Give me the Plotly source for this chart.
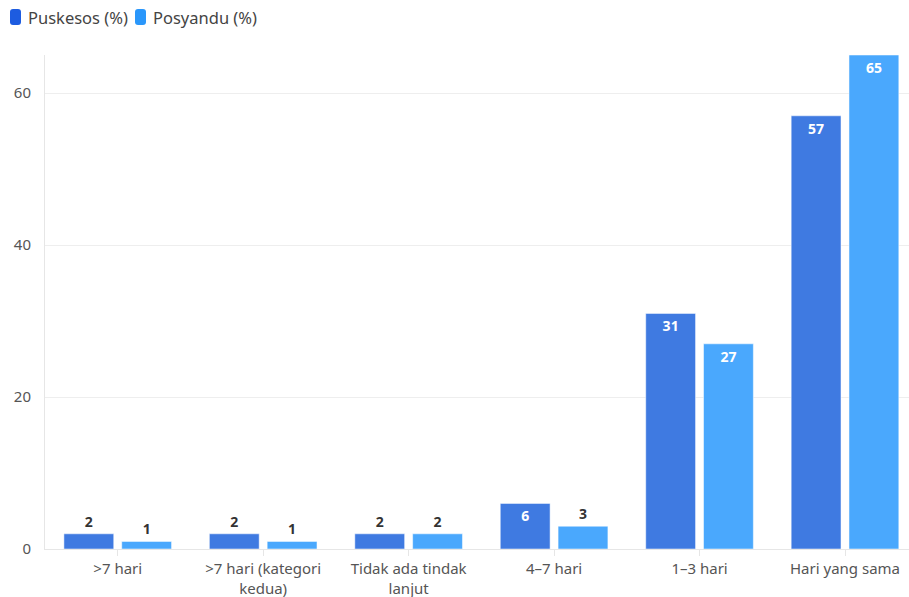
import plotly.graph_objects as go

categories = [">7 hari", ">7 hari (kategori<br>kedua)", "Tidak ada tindak<br>lanjut",
              "4–7 hari", "1–3 hari", "Hari yang sama"]
puskesos = [2, 2, 2, 6, 31, 57]
posyandu = [1, 1, 2, 3, 27, 65]
series_names = ["Puskesos (%)", "Posyandu (%)"]

DARK_BAR, LIGHT_BAR = "#3f7ae1", "#4aa8fd"
DARK_KEY, LIGHT_KEY = "#1d5ce0", "#2a97fb"
FONT = "Noto Sans"


def label_positions(values, threshold=5):
    return ["inside" if v >= threshold else "outside" for v in values]


def label_colors(values, threshold=5):
    return ["#ffffff" if v >= threshold else "#333333" for v in values]


def rounded_rect(x0, y0, x1, y1, r):
    return (f"M{x0+r},{y0} L{x1-r},{y0} Q{x1},{y0} {x1},{y0+r} L{x1},{y1-r} "
            f"Q{x1},{y1} {x1-r},{y1} L{x0+r},{y1} Q{x0},{y1} {x0},{y1-r} "
            f"L{x0},{y0+r} Q{x0},{y0} {x0+r},{y0} Z")


fig = go.Figure()
for name, vals, col in [(series_names[0], puskesos, DARK_BAR), (series_names[1], posyandu, LIGHT_BAR)]:
    fig.add_trace(go.Bar(
        x=categories, y=vals, name=name, showlegend=False,
        marker=dict(color=col, line=dict(color="rgba(255,255,255,0.5)", width=1)),
        text=[str(v) for v in vals], textposition=label_positions(vals),
        insidetextanchor="end", cliponaxis=False,
        textfont=dict(family=FONT, size=14, weight="bold", color=label_colors(vals)),
        constraintext="none",
    ))

# legend drawn as rounded keys with labels above the plot area
legend_keys = [(-35, DARK_KEY, -19), (90, LIGHT_KEY, 106)]
for (kx, col, tx), name in zip(legend_keys, series_names):
    fig.add_shape(type="path", xref="paper", yref="paper",
                  xsizemode="pixel", ysizemode="pixel", xanchor=0, yanchor=1,
                  path=rounded_rect(kx, 30, kx + 11, 46, 3),
                  fillcolor=col, line=dict(width=0))
    fig.add_annotation(x=0, y=1, xref="paper", yref="paper", xshift=tx, yshift=38,
                       xanchor="left", yanchor="middle", showarrow=False, text=name,
                       font=dict(family=FONT, size=16.5, color="#444444"))

fig.update_layout(
    width=909, height=597,
    margin=dict(l=45, r=0, t=55, b=48),
    paper_bgcolor="white", plot_bgcolor="white",
    barmode="group", bargap=0.205, bargroupgap=0.138,
    font=dict(family=FONT, color="#555555"),
    showlegend=False,
    uniformtext=dict(minsize=14, mode="show"),
)
fig.update_xaxes(
    range=[-0.5, 5.44], showline=True, linecolor="#e6e6e6", linewidth=1,
    ticks="outside", ticklen=6, tickcolor="#e6e6e6",
    tickfont=dict(size=15, color="#555555"), showgrid=False,
)
fig.update_yaxes(
    range=[0, 65], tickvals=[0, 20, 40, 60], showgrid=True, gridcolor="#eeeeee",
    showline=True, linecolor="#e6e6e6", zeroline=False,
    tickfont=dict(size=15, color="#555555"), ticks="", ticklabelstandoff=10,
)

fig.write_html("out.html")
